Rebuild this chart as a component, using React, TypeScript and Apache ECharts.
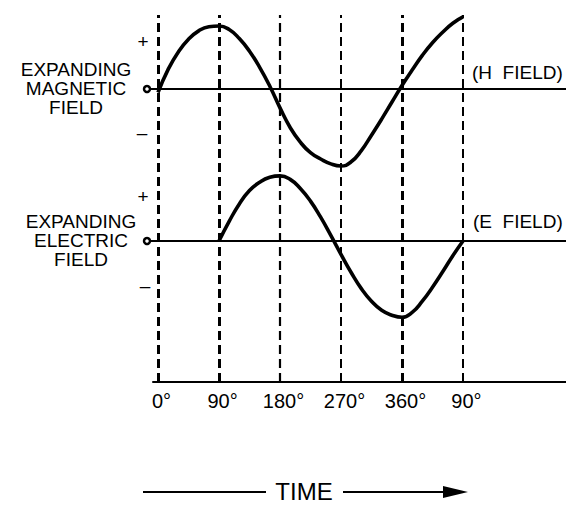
import React, { useEffect, useRef } from "react";
import * as echarts from "echarts";

// Phase angle (degrees) for the magnetic (H) field curve
const hDegrees = [0, 15, 30, 45, 60, 75, 90, 105, 120, 135, 150, 165, 180, 195, 210, 225, 240, 255, 270, 285, 300, 315, 330, 345, 360, 375, 390, 405, 420, 435, 450];
// Relative H field strength
const hField = [-0.05, 0.28, 0.53, 0.71, 0.83, 0.89, 0.9, 0.85, 0.72, 0.54, 0.31, 0.04, -0.27, -0.55, -0.76, -0.91, -1.0, -1.07, -1.1, -1.04, -0.88, -0.66, -0.43, -0.19, 0.05, 0.27, 0.48, 0.66, 0.81, 0.94, 1.03];

// Phase angle (degrees) for the electric (E) field curve
const eDegrees = [90, 105, 120, 135, 150, 165, 180, 195, 210, 225, 240, 255, 270, 285, 300, 315, 330, 345, 360, 375, 390, 405, 420, 435, 450];
// Relative E field strength
const eField = [0, 0.28, 0.53, 0.72, 0.84, 0.91, 0.93, 0.88, 0.75, 0.57, 0.34, 0.08, -0.19, -0.45, -0.68, -0.86, -0.99, -1.06, -1.09, -1.02, -0.86, -0.66, -0.44, -0.21, 0];

// Time axis ticks
const tickDegrees = [0, 90, 180, 270, 360, 450];
const tickLabels = ["0°", "90°", "180°", "270°", "360°", "90°"];

const FONT = "'Liberation Sans', Arial, Helvetica, sans-serif";

export default function App() {
  const ref = useRef<HTMLDivElement>(null);

  useEffect(() => {
    if (!ref.current) return;
    const chart = echarts.init(ref.current, undefined, { renderer: "svg" });
    const guideWidths = [3, 3, 2.2, 2, 3, 2];
    const black = "#000";

    const hiddenAxis = {
      axisLine: { show: false },
      axisTick: { show: false },
      axisLabel: { show: false },
      splitLine: { show: false },
    };

    const option: any = {
      animation: false,
      backgroundColor: "#fff",
      grid: [
        { left: 150, right: 0, top: 12, height: 161 },
        { left: 150, right: 0, top: 164, height: 161 },
        { left: 153, right: 0, top: 15, height: 367 },
      ],
      xAxis: [
        {
          type: "value", gridIndex: 0, min: -11.8, max: 602,
          axisLine: { show: true, onZero: true, lineStyle: { color: black, width: 2 } },
          axisTick: { show: false }, axisLabel: { show: false }, splitLine: { show: false },
        },
        {
          type: "value", gridIndex: 1, min: -11.8, max: 602,
          axisLine: { show: true, onZero: true, lineStyle: { color: black, width: 2 } },
          axisTick: { show: false }, axisLabel: { show: false }, splitLine: { show: false },
        },
        {
          type: "value", gridIndex: 2, min: -7.4, max: 602,
          axisLine: { show: true, onZero: false, lineStyle: { color: black, width: 2 } },
          axisTick: { show: false },
          splitLine: { show: false },
          axisLabel: {
            show: true,
            customValues: tickDegrees,
            formatter: (v: number) => {
              const i = tickDegrees.indexOf(v);
              return i >= 0 ? tickLabels[i] : "";
            },
            color: black,
            fontSize: 20,
            fontFamily: FONT,
            margin: 9,
            padding: [0, 0, 0, 7],
          },
        },
      ],
      yAxis: [
        { type: "value", gridIndex: 0, min: -1.2, max: 1.1, ...hiddenAxis },
        { type: "value", gridIndex: 1, min: -1.2, max: 1.1, ...hiddenAxis },
        { type: "value", gridIndex: 2, min: 0, max: 1, ...hiddenAxis },
      ],
      series: [
        {
          type: "line",
          xAxisIndex: 2,
          yAxisIndex: 2,
          data: [],
          z: 1,
          markLine: {
            silent: true,
            symbol: "none",
            label: { show: false },
            data: tickDegrees.map((d, i) => ({
              xAxis: d,
              lineStyle: { color: black, width: guideWidths[i], type: [9, 5] },
            })),
          },
        },
        {
          name: "H field",
          type: "line",
          xAxisIndex: 0,
          yAxisIndex: 0,
          smooth: 0.5,
          showSymbol: false,
          z: 5,
          clip: false,
          lineStyle: { color: black, width: 3.6 },
          data: hDegrees.map((d, i) => [d, hField[i]]),
        },
        {
          name: "E field",
          type: "line",
          xAxisIndex: 1,
          yAxisIndex: 1,
          smooth: 0.5,
          showSymbol: false,
          z: 5,
          clip: false,
          lineStyle: { color: black, width: 3.6 },
          data: eDegrees.map((d, i) => [d, eField[i]]),
        },
      ],
      graphic: [
        {
          type: "text", x: 76, y: 88,
          style: {
            text: "EXPANDING\nMAGNETIC\nFIELD", fill: black, font: `19px ${FONT}`,
            align: "center", verticalAlign: "middle", lineHeight: 19,
          },
        },
        {
          type: "text", x: 81, y: 240,
          style: {
            text: "EXPANDING\nELECTRIC\nFIELD", fill: black, font: `19px ${FONT}`,
            align: "center", verticalAlign: "middle", lineHeight: 19,
          },
        },
        { type: "text", x: 143, y: 41, style: { text: "+", fill: black, font: `19px ${FONT}`, align: "center", verticalAlign: "middle" } },
        { type: "text", x: 142, y: 132, style: { text: "–", fill: black, font: `19px ${FONT}`, align: "center", verticalAlign: "middle" } },
        { type: "text", x: 143, y: 196, style: { text: "+", fill: black, font: `19px ${FONT}`, align: "center", verticalAlign: "middle" } },
        { type: "text", x: 145, y: 285, style: { text: "–", fill: black, font: `19px ${FONT}`, align: "center", verticalAlign: "middle" } },
        { type: "circle", shape: { cx: 147, cy: 89, r: 3 }, style: { fill: "#fff", stroke: black, lineWidth: 2.5 }, z: 10 },
        { type: "circle", shape: { cx: 147, cy: 241, r: 3 }, style: { fill: "#fff", stroke: black, lineWidth: 2.5 }, z: 10 },
        { type: "text", x: 472, y: 72, style: { text: "(H  FIELD)", fill: black, font: `19px ${FONT}`, align: "left", verticalAlign: "middle" } },
        { type: "text", x: 473, y: 221, style: { text: "(E  FIELD)", fill: black, font: `19px ${FONT}`, align: "left", verticalAlign: "middle" } },
        { type: "text", x: 304, y: 491, style: { text: "TIME", fill: black, font: `24px ${FONT}`, align: "center", verticalAlign: "middle" } },
        { type: "line", shape: { x1: 143, y1: 492, x2: 266, y2: 492 }, style: { stroke: black, lineWidth: 2 } },
        { type: "line", shape: { x1: 343, y1: 492, x2: 450, y2: 492 }, style: { stroke: black, lineWidth: 2 } },
        { type: "polygon", shape: { points: [[443, 486], [468, 492], [443, 498]] }, style: { fill: black } },
      ],
    };

    chart.setOption(option);
    return () => chart.dispose();
  }, []);

  return (
    <div
      ref={ref}
      style={{ position: "fixed", left: 0, top: 0, width: 566, height: 506, background: "#fff" }}
    />
  );
}
